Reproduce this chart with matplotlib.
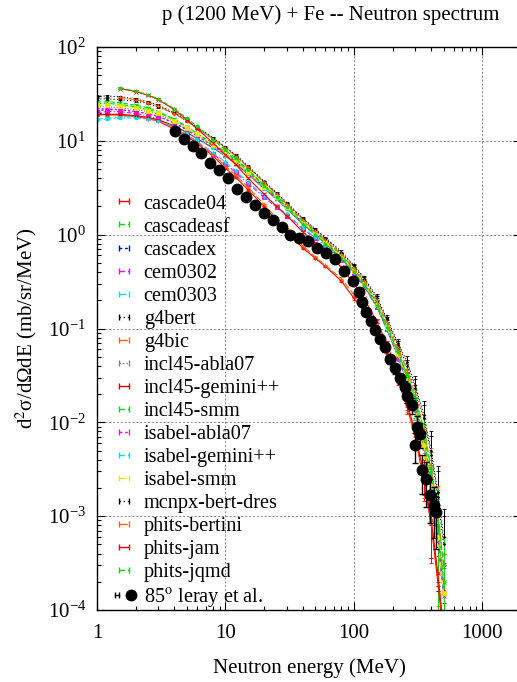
import numpy as np
import matplotlib
matplotlib.use('Agg')
import matplotlib.pyplot as plt
from matplotlib.lines import Line2D
from matplotlib.legend_handler import HandlerLine2D, HandlerTuple
from matplotlib.ticker import FixedLocator, FixedFormatter, LogLocator, LogFormatterMathtext, NullFormatter

plt.rcParams['font.family'] = ['Liberation Serif', 'DejaVu Serif']
plt.rcParams['mathtext.fontset'] = 'stix'

# ---------------- data ----------------
model_names = ["cascade04", "cascadeasf", "cascadex", "cem0302", "cem0303", "g4bert",
               "g4bic", "incl45-abla07", "incl45-gemini++", "incl45-smm", "isabel-abla07",
               "isabel-gemini++", "isabel-smm", "mcnpx-bert-dres", "phits-bertini",
               "phits-jam", "phits-jqmd"]

energy_grid = [1, 1.2, 1.5, 2, 2.5, 3, 4, 5, 6, 8, 10, 12, 15, 20, 25, 30, 40, 50, 60, 80,
               100, 120, 150, 180, 220, 260, 300, 350, 400, 450, 500]

nan = float('nan')
cascade04 = [19, 19, 18.8, 18.2, 17.2, 16.2, 13.3, 11.2, 9.4, 6.9, 5.1, 4.1, 3.0, 2.0, 1.42, 1.1, 0.72, 0.56, 0.46, 0.32, 0.21, 0.15, 0.09, 0.054, 0.028, 0.0145, 0.007, 0.0024, 0.0008, 0.0002, 0.00005]
cascadeasf = [26, 26, 25.5, 24, 22.5, 20.5, 17, 14.2, 12, 9.4, 7.6, 6.3, 4.9, 3.4, 2.6, 2.05, 1.4, 1.08, 0.86, 0.6, 0.43, 0.31, 0.19, 0.11, 0.058, 0.032, 0.017, 0.0068, 0.0025, 0.0008, 0.0002]
cascadex = [21, 21.5, 21.5, 20.5, 19.5, 18.2, 15.5, 13.2, 11.3, 8.9, 7.3, 6.0, 4.6, 3.25, 2.5, 1.95, 1.33, 1.03, 0.82, 0.57, 0.41, 0.3, 0.18, 0.1, 0.052, 0.027, 0.014, 0.0055, 0.002, 0.0006, 0.00015]
cem0302 = [20, 20.5, 20.5, 19.5, 18.5, 17, 14, 11.6, 9.7, 7.3, 5.7, 4.6, 3.5, 2.5, 1.95, 1.6, 1.15, 0.92, 0.76, 0.54, 0.39, 0.28, 0.17, 0.1, 0.05, 0.027, 0.014, 0.0056, 0.002, 0.0006, 0.00015]
cem0303 = [17, 17.5, 18, 18, 17.5, 16.5, 14, 11.8, 9.9, 7.5, 5.9, 4.8, 3.6, 2.6, 2.0, 1.65, 1.18, 0.94, 0.78, 0.55, 0.4, 0.29, 0.175, 0.1, 0.051, 0.027, 0.014, 0.0055, 0.002, 0.0006, 0.00015]
g4bert = [30, 30, 29.5, 28, 26, 24, 20, 16.8, 14, 10.8, 8.6, 7.1, 5.4, 3.7, 2.8, 2.2, 1.5, 1.15, 0.93, 0.66, 0.47, 0.35, 0.22, 0.13, 0.07, 0.044, 0.025, 0.012, 0.005, 0.0018, 0.0006]
g4bic = [19, 19, 19, 18.5, 17.5, 16.5, 13.8, 11.5, 9.6, 7.1, 5.4, 4.3, 3.2, 2.1, 1.5, 1.15, 0.76, 0.58, 0.47, 0.34, 0.23, 0.165, 0.098, 0.058, 0.029, 0.015, 0.0072, 0.0026, 0.0009, 0.00025, 0.00006]
incl45_abla07 = [23, 23, 22.5, 21.5, 20.5, 19.2, 16.2, 13.6, 11.6, 9.0, 7.3, 6.0, 4.6, 3.2, 2.45, 1.95, 1.32, 1.02, 0.82, 0.57, 0.41, 0.3, 0.18, 0.105, 0.054, 0.029, 0.015, 0.006, 0.0022, 0.0007, 0.0002]
incl45_gemini = [19, 19.2, 19.2, 18.5, 17.8, 16.8, 14.4, 12.3, 10.6, 8.4, 6.9, 5.7, 4.4, 3.1, 2.4, 1.9, 1.3, 1.0, 0.81, 0.56, 0.4, 0.29, 0.175, 0.1, 0.052, 0.028, 0.0145, 0.0058, 0.0021, 0.0006, 0.00016]
incl45_smm = [25, 25, 24.5, 23, 21.5, 20, 16.8, 14, 11.9, 9.2, 7.4, 6.1, 4.7, 3.3, 2.5, 2.0, 1.35, 1.04, 0.83, 0.58, 0.41, 0.3, 0.18, 0.105, 0.054, 0.029, 0.015, 0.006, 0.0022, 0.0007, 0.0002]
isabel_abla07 = [22, 22, 21.5, 20.5, 19.5, 18.3, 15.5, 13.1, 11.2, 8.8, 7.1, 5.9, 4.5, 3.15, 2.4, 1.92, 1.3, 1.01, 0.81, 0.56, 0.4, 0.29, 0.175, 0.1, 0.051, 0.027, 0.014, 0.0055, 0.002, 0.0006, 0.00014]
isabel_gemini = [16.5, 17, 17.5, 17.5, 17, 16.3, 14.2, 12.2, 10.5, 8.4, 6.9, 5.7, 4.4, 3.1, 2.4, 1.9, 1.3, 1.0, 0.8, 0.56, 0.4, 0.29, 0.175, 0.1, 0.052, 0.027, 0.014, 0.0056, 0.002, 0.0006, 0.00015]
isabel_smm = [24, 24, 23.5, 22.5, 21, 19.6, 16.4, 13.8, 11.7, 9.1, 7.3, 6.0, 4.6, 3.25, 2.5, 1.97, 1.34, 1.03, 0.83, 0.58, 0.41, 0.3, 0.18, 0.104, 0.053, 0.028, 0.0145, 0.0058, 0.0021, 0.0006, 0.00015]
mcnpx_bert_dres = [28, 28, 27.5, 26.5, 25, 23, 19.5, 16.4, 13.8, 10.6, 8.5, 7.0, 5.3, 3.65, 2.75, 2.15, 1.48, 1.13, 0.91, 0.64, 0.46, 0.34, 0.21, 0.125, 0.067, 0.04, 0.023, 0.011, 0.0045, 0.0016, 0.0005]
phits_bertini = [nan, nan, 29, 27.5, 25.5, 23.5, 19.5, 16.2, 13.6, 10.5, 8.4, 6.9, 5.2, 3.6, 2.7, 2.1, 1.45, 1.1, 0.88, 0.62, 0.44, 0.32, 0.2, 0.118, 0.062, 0.036, 0.02, 0.0085, 0.0033, 0.0011, 0.0003]
phits_jam = [nan, nan, 36, 33.5, 30.5, 27.5, 21.5, 16.8, 13.5, 9.5, 7.1, 5.6, 4.0, 2.7, 2.0, 1.6, 1.07, 0.82, 0.66, 0.45, 0.3, 0.21, 0.12, 0.07, 0.033, 0.016, 0.0078, 0.0028, 0.0009, 0.00025, 0.00006]
phits_jqmd = [nan, nan, 36.5, 34, 31, 28, 22, 17.5, 14.3, 10.3, 8.0, 6.5, 4.9, 3.3, 2.5, 1.95, 1.3, 1.0, 0.8, 0.56, 0.4, 0.29, 0.175, 0.105, 0.056, 0.032, 0.018, 0.0078, 0.003, 0.001, 0.0003]

model_rel_err = [0.02, 0.02, 0.02, 0.02, 0.02, 0.02, 0.02, 0.02, 0.02, 0.02, 0.02, 0.02, 0.02, 0.02, 0.02,
                 0.02, 0.02, 0.02, 0.02, 0.03, 0.03, 0.04, 0.05, 0.06, 0.1, 0.15, 0.25, 0.4, 0.6, 0.9, 1.0]

exp_label = "85$^{\\mathrm{o}}$ leray et al."
exp_energy = [4.05, 4.77, 5.57, 6.47, 7.6, 8.93, 10.5, 12.3, 14.5, 17.0, 20.0, 23.4, 27.5, 31.9, 37.5,
              44.1, 51.9, 60.9, 71.6, 84.2, 98.0, 109, 116, 125, 136, 147, 161, 176, 190, 210, 230,
              248, 259, 284, 301, 310, 325, 340, 367, 389, 418, 436]
exp_value = [12.8, 10.4, 8.8, 7.4, 5.8, 4.88, 4.0, 3.06, 2.53, 2.07, 1.71, 1.43, 1.20, 0.99, 0.92,
             0.855, 0.72, 0.64, 0.556, 0.414, 0.32, 0.246, 0.193, 0.151, 0.121, 0.096, 0.078, 0.063,
             0.047, 0.0376, 0.0294, 0.0239, 0.019, 0.0152, 0.0057, 0.009, 0.0076, 0.0031, 0.00252,
             0.00168, 0.00131, 0.00111]
exp_rel_err = [0.08, 0.08, 0.08, 0.08, 0.08, 0.08, 0.08, 0.08, 0.08, 0.08, 0.08, 0.08, 0.08, 0.08, 0.08,
               0.08, 0.08, 0.08, 0.08, 0.08, 0.08, 0.08, 0.08, 0.08, 0.08, 0.08, 0.09, 0.1, 0.1, 0.12,
               0.12, 0.15, 0.15, 0.2, 0.35, 0.3, 0.3, 0.45, 0.5, 0.5, 0.55, 0.6]

x_ticks = [1, 10, 100, 1000]
x_tick_labels = ['1', '10', '100', '1000']
y_ticks = [1e-4, 1e-3, 1e-2, 1e-1, 1e0, 1e1, 1e2]

model_values = [cascade04, cascadeasf, cascadex, cem0302, cem0303, g4bert, g4bic, incl45_abla07,
                incl45_gemini, incl45_smm, isabel_abla07, isabel_gemini, isabel_smm,
                mcnpx_bert_dres, phits_bertini, phits_jam, phits_jqmd]

# ---------------- styles ----------------
colors = ['#ff0000', '#00dd00', '#0000ff', '#ff00ff', '#00e0e0', '#000000', '#ff6000', '#808080',
          '#e00000', '#00dd00', '#ff00ff', '#00e0e0', '#e8e800', '#000000', '#ff6000',
          '#ff0000', '#00dd00']
dashes = ['-', (0, (4, 2)), (0, (2, 2)), (0, (4, 2, 1, 2)), (0, (5, 3)), (0, (1, 2)),
          (0, (6, 2)), (0, (1, 1.5)), '-', (0, (4, 2)), (0, (2, 2)), (0, (4, 2, 1, 2)),
          (0, (5, 3)), (0, (1, 2)), (0, (6, 2)), '-', (0, (4, 2))]
markers = ['+', 'x', '*', 's', 'd', '.', '+', 'x', '*', '+', 'x', '*', 's', '.', '+', 'x', '*']

fig = plt.figure(figsize=(5.17, 6.82), dpi=100)
ax = fig.add_axes([97 / 517, 72 / 682, 424 / 517, 563 / 682])
ax.set_xscale('log')
ax.set_yscale('log')

E = np.array(energy_grid)
rel = np.array(model_rel_err)
handles = []
for name, vals, c, ls, mk in zip(model_names, model_values, colors, dashes, markers):
    v = np.array(vals)
    ax.errorbar(E, v, yerr=v * rel, color=c, linestyle=ls, linewidth=0.8,
                marker=mk, markersize=2.5, markeredgewidth=0.6,
                elinewidth=0.7, capsize=1.5)
    handles.append(Line2D([], [], color=c, linestyle=ls, linewidth=1.0,
                          marker='|', markersize=5, markeredgewidth=1.0))

ev = np.array(exp_value)
ax.errorbar(exp_energy, ev, yerr=ev * np.array(exp_rel_err), fmt='o', color='black',
            markersize=7.5, elinewidth=1.0, capsize=2, zorder=5)

exp_caps = Line2D([], [], color='black', linestyle='-', linewidth=1.0,
                  marker='|', markersize=5, markeredgewidth=1.0)
exp_dot = Line2D([], [], color='black', linestyle='none', marker='o', markersize=7.5)
handles.append((exp_caps, exp_dot))
labels = model_names + [exp_label]

ax.set_xlim(1, 2000)
ax.set_ylim(1e-4, 100)

ax.xaxis.set_major_locator(FixedLocator(x_ticks))
ax.xaxis.set_major_formatter(FixedFormatter(x_tick_labels))
ax.xaxis.set_minor_locator(LogLocator(base=10, subs=np.arange(2, 10), numticks=10))
ax.yaxis.set_major_locator(FixedLocator(y_ticks))
ax.yaxis.set_minor_locator(LogLocator(base=10, subs=np.arange(2, 10), numticks=10))
ax.xaxis.set_minor_formatter(NullFormatter())
ax.yaxis.set_minor_formatter(NullFormatter())
ax.yaxis.set_major_formatter(LogFormatterMathtext())

ax.tick_params(which='both', direction='in', top=True, right=True, labelsize=15, width=0.8)
ax.tick_params(axis='x', which='major', length=6, pad=10)
ax.tick_params(axis='y', which='major', length=6, pad=8)
ax.tick_params(which='minor', length=3)
ax.grid(True, which='major', color='#888888', linestyle=(0, (2, 2)), linewidth=0.7)
ax.set_axisbelow(True)
for s in ax.spines.values():
    s.set_linewidth(1.0)

ax.set_xlabel('Neutron energy (MeV)', fontsize=15, labelpad=11)
ax.set_ylabel('d$^{2}$σ/dΩdE (mb/sr/MeV)', fontsize=15, labelpad=6)
fig.text(331 / 517, 1 - 15 / 682, 'p (1200 MeV) + Fe -- Neutron spectrum', fontsize=15,
         ha='center', va='center')

leg = ax.legend(handles, labels, loc='lower left', bbox_to_anchor=(0.0, -0.028), frameon=False,
                fontsize=14.6, handlelength=1.1, handletextpad=0.4, labelspacing=0.19,
                borderpad=0.3, numpoints=2,
                handler_map={tuple: HandlerTuple(ndivide=None),
                             exp_dot: HandlerLine2D(numpoints=1)})

fig.savefig('out.png', dpi=100)
